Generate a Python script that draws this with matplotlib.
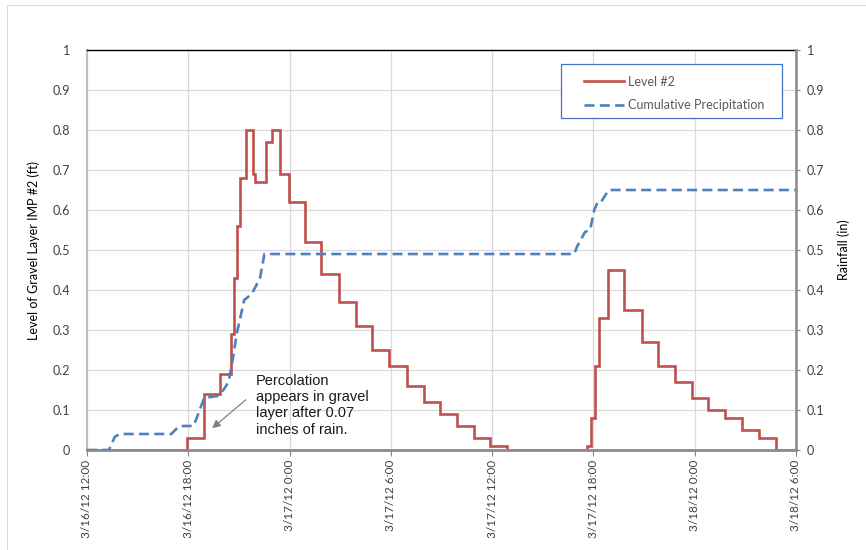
import numpy as np
import pandas as pd
import matplotlib
matplotlib.use("Agg")
import matplotlib.pyplot as plt
from matplotlib.patches import Rectangle

plt.rcParams["font.family"] = ["Lato", "DejaVu Sans"]

START = pd.Timestamp("2012-03-16 12:00")
END = pd.Timestamp("2012-03-18 06:00")

# gravel layer level (ft), hours after 3/16/12 12:00 where each reading step begins
level_hours = [0.0, 5.95, 6.93, 7.90, 8.55, 8.70, 8.88, 9.08, 9.40, 9.85, 9.93,
               10.58, 10.93, 11.45, 11.95, 12.92, 13.88, 14.93, 15.92, 16.90,
               17.88, 18.93, 19.95, 20.90, 21.90, 22.92, 23.90, 24.90, 29.62,
               29.85, 30.08, 30.35, 30.88, 31.82, 32.85, 33.85, 34.83, 35.82,
               36.80, 37.80, 38.80, 39.82, 40.82, 42.0]
level_ft = [0.0, 0.03, 0.14, 0.19, 0.29, 0.43, 0.56, 0.68, 0.80, 0.69, 0.67,
            0.77, 0.80, 0.69, 0.62, 0.52, 0.44, 0.37, 0.31, 0.25,
            0.21, 0.16, 0.12, 0.09, 0.06, 0.03, 0.01, 0.0, 0.01,
            0.08, 0.21, 0.33, 0.45, 0.35, 0.27, 0.21, 0.17, 0.13,
            0.10, 0.08, 0.05, 0.03, 0.0, 0.0]

# cumulative rainfall (in)
rain_hours = [0.0, 1.30, 1.65, 1.95, 5.00, 5.22, 5.50, 6.30, 6.50, 6.94, 7.72,
              8.08, 8.38, 8.57, 8.87, 9.31, 9.76, 10.25, 10.51, 28.85, 29.05,
              29.50, 29.80, 30.05, 30.25, 30.45, 30.90, 42.0]
rain_in = [0.0, 0.0, 0.033, 0.04, 0.04, 0.05, 0.06, 0.06, 0.08, 0.13, 0.135,
           0.15, 0.17, 0.21, 0.29, 0.375, 0.39, 0.43, 0.49, 0.49, 0.51,
           0.545, 0.55, 0.60, 0.62, 0.62, 0.65, 0.65]

tick_labels = ["3/16/12 12:00", "3/16/12 18:00", "3/17/12 0:00", "3/17/12 6:00",
               "3/17/12 12:00", "3/17/12 18:00", "3/18/12 0:00", "3/18/12 6:00"]
y_ticks = [0, 0.1, 0.2, 0.3, 0.4, 0.5, 0.6, 0.7, 0.8, 0.9, 1]
y_tick_labels = ["0", "0.1", "0.2", "0.3", "0.4", "0.5", "0.6", "0.7", "0.8", "0.9", "1"]

level_t = START + pd.to_timedelta(level_hours, unit="h")
rain_t = START + pd.to_timedelta(rain_hours, unit="h")
tick_t = pd.date_range(START, END, freq="6h")

RED = "#C0504D"
BLUE = "#4F81BD"
TXT = "#404040"

fig = plt.figure(figsize=(8.66, 5.5), dpi=100)
ax = fig.add_axes([87 / 866, 1 - 450 / 550, 709 / 866, 400 / 550])
ax2 = ax.twinx()

# outer chart frame
fig.add_artist(Rectangle((7.5 / 866, -0.1), 2, 1.1 - 4.5 / 550, transform=fig.transFigure,
                         fill=False, edgecolor="#D9D9D9", lw=0.8))

l1, = ax.plot(level_t, level_ft, color=RED, lw=1.9, drawstyle="steps-post",
              label="Level #2", solid_joinstyle="miter")
l2, = ax2.plot(rain_t, rain_in, color=BLUE, lw=1.9, ls=(0, (3.8, 2.0)),
               label="Cumulative Precipitation")

for a in (ax, ax2):
    a.set_ylim(0, 1)
    a.set_yticks(y_ticks)
    a.set_yticklabels(y_tick_labels, fontsize=9, color=TXT)
    a.set_xlim(START, END)

ax.set_xticks(tick_t)
ax.set_xticklabels(tick_labels, rotation=90, fontsize=8.5, color=TXT)
ax.tick_params(axis="x", length=4, color="#868686", pad=3)
ax.tick_params(axis="y", length=0, pad=12)
ax2.tick_params(axis="y", length=3, color="#868686", pad=5)

ax.grid(True, color="#D9D9D9", lw=0.9)
ax.set_axisbelow(True)

ax.spines["top"].set_color("black")
ax.spines["top"].set_linewidth(1.0)
ax.spines["left"].set_color("#BFBFBF")
ax.spines["left"].set_linewidth(1.5)
ax.spines["bottom"].set_color("#8C8C8C")
ax.spines["bottom"].set_linewidth(2.0)
ax2.spines["right"].set_color("#8C8C8C")
ax2.spines["right"].set_linewidth(1.8)
for s in ("top", "left", "bottom"):
    ax2.spines[s].set_visible(False)

ax.set_ylabel("Level of Gravel Layer IMP #2 (ft)", fontsize=9, color="black")
ax.yaxis.set_label_coords(-0.066, 0.5)
ax2.set_ylabel("Rainfall (in)", fontsize=9, color="black")
ax2.yaxis.set_label_coords(1.058, 0.5)

# legend box drawn separately so the inner padding can differ per side
ax2.add_patch(Rectangle((0.6685, 0.83), 0.3115, 0.135, transform=ax2.transAxes,
                        facecolor="white", edgecolor="#4472C4", lw=0.9, zorder=5))
leg = ax2.legend(handles=[l1, l2], loc="upper left", bbox_to_anchor=(0.701, 0.936),
                 borderaxespad=0, borderpad=0, frameon=False, fontsize=9,
                 handlelength=3.2, handletextpad=0.3, labelspacing=0.95,
                 labelcolor="#595959")
leg.set_zorder(6)

ax.text(0.238, 0.19, "Percolation\nappears in gravel\nlayer after 0.07\ninches of rain.",
        transform=ax.transAxes, ha="left", va="top", fontsize=10.5,
        family=["Liberation Sans", "DejaVu Sans"], color="#1a1a1a", linespacing=1.2)
ax.annotate("", xy=(0.1735, 0.05), xytext=(0.227, 0.13), xycoords="axes fraction",
            textcoords="axes fraction",
            arrowprops=dict(arrowstyle="-|>", color="#808080", lw=0.9, mutation_scale=12))

fig.savefig("out.png", dpi=100)
